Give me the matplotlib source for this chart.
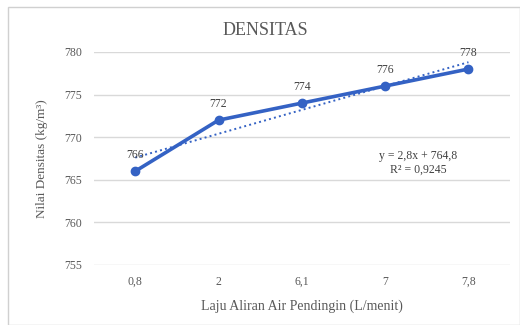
import numpy as np
import matplotlib
matplotlib.use("Agg")
import matplotlib.pyplot as plt
from matplotlib.patches import Rectangle

categories = ['0,8', '2', '6,1', '7', '7,8']
densitas = [766, 772, 774, 776, 778]
y_ticks = [755, 760, 765, 770, 775, 780]

plt.rcParams['font.family'] = ['Liberation Serif', 'DejaVu Serif']

blue = '#3462c4'
grey_txt = '#595959'

fig = plt.figure(figsize=(5.2, 3.25), dpi=100)
fig.patches.append(Rectangle((0.015, 0.0), 0.985, 0.98, transform=fig.transFigure,
                             fill=False, edgecolor='#d0d0d0', linewidth=1.0))
ax = fig.add_axes([0.18, 0.185, 0.801, 0.655])

x = np.arange(len(categories))
ax.plot(x, densitas, color=blue, linewidth=2.6, marker='o', markersize=6, zorder=3)

# linear trendline (Excel numbers x as 1..n)
xn = x + 1
slope, intercept = np.polyfit(xn, densitas, 1)
ax.plot(x, slope * xn + intercept, color=blue, linestyle=':', linewidth=1.4, zorder=2)

for xi, v in zip(x, densitas):
    ax.annotate(str(v), (xi, v), xytext=(0, 7), textcoords='offset points',
                ha='center', va='bottom', fontsize=8.5, color='#404040')

ss_res = np.sum((np.array(densitas) - (slope * xn + intercept)) ** 2)
ss_tot = np.sum((np.array(densitas) - np.mean(densitas)) ** 2)
r2 = 1 - ss_res / ss_tot
eq = 'y = {:.1f}x + {:.1f}'.format(slope, intercept).replace('.', ',')
rr = 'R² = {:.4f}'.format(r2).replace('.', ',')
ax.text(3.4, 767.0, eq + '\n' + rr, ha='center', va='center', fontsize=8.5,
        color='#404040', linespacing=1.25)

ax.set_xlim(-0.5, len(categories) - 0.5)
ax.set_ylim(755, 780)
ax.set_xticks(x)
ax.set_xticklabels(categories)
ax.set_yticks(y_ticks)
ax.tick_params(length=0, labelsize=8.5, colors=grey_txt, pad=8)
ax.grid(axis='y', color='#d9d9d9', linewidth=1.0)
ax.set_axisbelow(True)
for s in ax.spines.values():
    s.set_visible(False)

ax.set_xlabel('Laju Aliran Air Pendingin (L/menit)', fontsize=10, color=grey_txt, labelpad=8)
ax.set_ylabel('Nilai Densitas (kg/m³)', fontsize=9.5, color=grey_txt, labelpad=12)
fig.text(0.51, 0.905, 'DENSITAS', ha='center', va='center', fontsize=13, color=grey_txt)

fig.savefig('out.png', dpi=100)
